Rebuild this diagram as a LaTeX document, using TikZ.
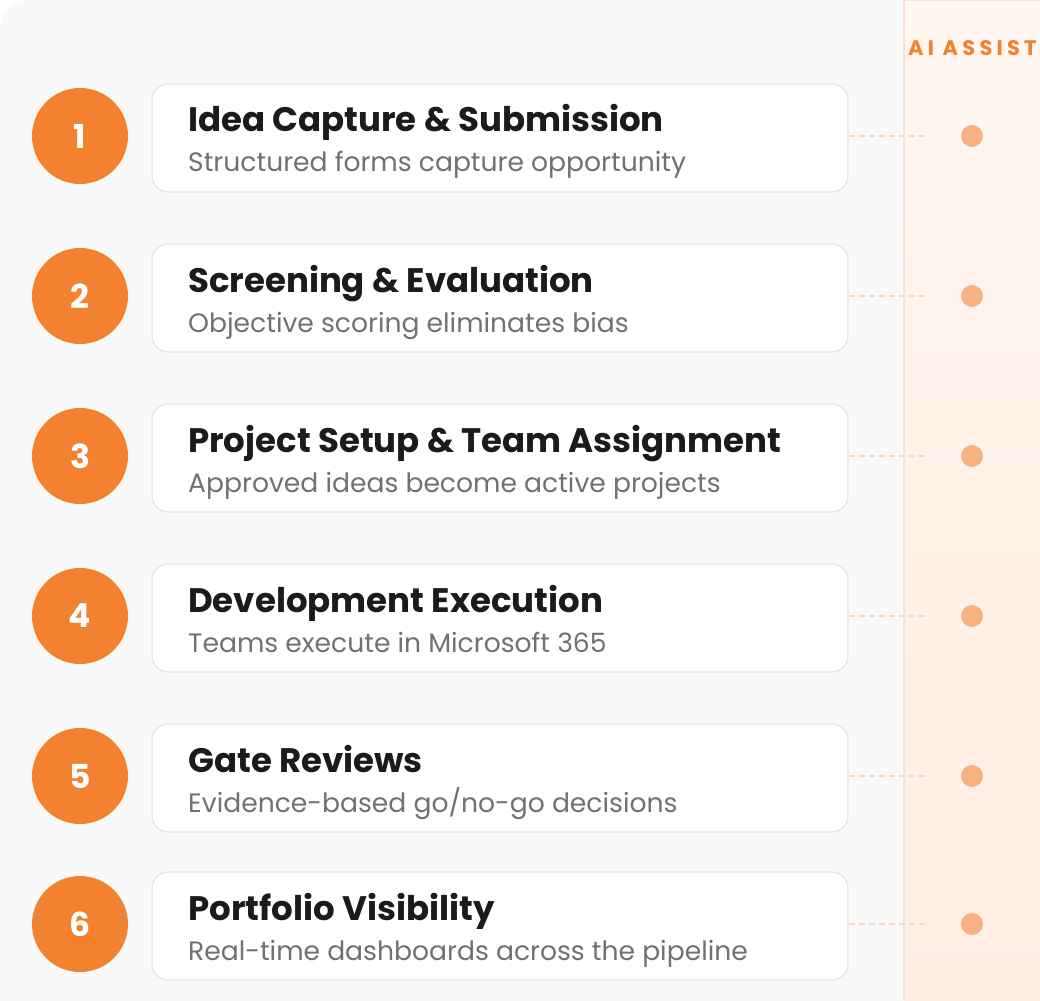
\documentclass[tikz,border=0pt]{standalone}
\usepackage{fontspec}
\setmainfont{Poppins}
\newfontfamily\assistfont[LetterSpace=20]{Poppins}
\usetikzlibrary{positioning}

\definecolor{accent}{HTML}{F28130}
\definecolor{dotfill}{HTML}{F7B283}
\definecolor{dashcol}{HTML}{F9D7C0}
\definecolor{colborder}{HTML}{FBE2D0}
\definecolor{coltop}{HTML}{FFF7F1}
\definecolor{colbottom}{HTML}{FFEDE1}
\definecolor{pagebg}{HTML}{F9F9F9}
\definecolor{cardline}{HTML}{E6E6E6}
\definecolor{titlecol}{HTML}{1B1B1B}
\definecolor{subcol}{HTML}{717171}

\begin{document}
\begin{tikzpicture}[x=1pt,y=-1pt,
  stepnum/.style={circle, fill=accent, minimum size=96pt, inner sep=0pt,
    text=white, font=\fontsize{33}{33}\selectfont\bfseries},
  card/.style={draw=cardline, line width=1.2pt, fill=white, rounded corners=16pt,
    minimum width=696pt, minimum height=108pt, inner sep=0pt},
  title/.style={anchor=base west, inner sep=0pt, text=titlecol,
    font=\fontsize{34}{34}\selectfont\bfseries},
  subtitle/.style={anchor=base west, inner sep=0pt, text=subcol,
    font=\fontsize{26.6}{26.6}\selectfont},
  link/.style={draw=dashcol, line width=1.2pt, dash pattern=on 6pt off 4pt},
  aidot/.style={circle, fill=dotfill, minimum size=22pt, inner sep=0pt}]
\useasboundingbox (0,0) rectangle (1040,1000);

% background panel and AI column
\fill[white] (0,0) rectangle (1040,1000);
\fill[pagebg, rounded corners=28pt] (0,0) rectangle (1080,1040);
\shade[top color=coltop, bottom color=colbottom] (904,0) rectangle (1040,1000);
\draw[colborder, line width=1.5pt] (904,0) -- (904,1000);
\draw[colborder, line width=1.5pt] (904,0.75) -- (1040,0.75);

\node[anchor=base west, inner sep=0pt, text=accent,
  font=\fontsize{21}{21}\selectfont\assistfont\bfseries]
  (assist) at (908,56) {AI ASSIST};

% step 1
\node[stepnum] (n1) at (80,136) {1};
\node[card] (c1) at (500,138) {};
\node[title] (t1) at (188,132) {Idea Capture \& Submission};
\node[subtitle] (s1) at (188,172) {Structured forms capture opportunity};
\node[aidot] (a1) at (972,136) {};
\coordinate (e1) at (926,136);
\draw[link] (c1.east |- a1) -- (e1);

% step 2
\node[stepnum] (n2) at (80,296) {2};
\node[card] (c2) at (500,298) {};
\node[title] (t2) at (188,292) {Screening \& Evaluation};
\node[subtitle] (s2) at (188,332) {Objective scoring eliminates bias};
\node[aidot] (a2) at (972,296) {};
\coordinate (e2) at (926,296);
\draw[link] (c2.east |- a2) -- (e2);

% step 3
\node[stepnum] (n3) at (80,456) {3};
\node[card] (c3) at (500,458) {};
\node[title] (t3) at (188,452) {Project Setup \& Team Assignment};
\node[subtitle] (s3) at (188,492) {Approved ideas become active projects};
\node[aidot] (a3) at (972,456) {};
\coordinate (e3) at (926,456);
\draw[link] (c3.east |- a3) -- (e3);

% step 4
\node[stepnum] (n4) at (80,616) {4};
\node[card] (c4) at (500,618) {};
\node[title] (t4) at (188,612) {Development Execution};
\node[subtitle] (s4) at (188,652) {Teams execute in Microsoft 365};
\node[aidot] (a4) at (972,616) {};
\coordinate (e4) at (926,616);
\draw[link] (c4.east |- a4) -- (e4);

% step 5
\node[stepnum] (n5) at (80,776) {5};
\node[card] (c5) at (500,778) {};
\node[title] (t5) at (188,772) {Gate Reviews};
\node[subtitle] (s5) at (188,812) {Evidence-based go/no-go decisions};
\node[aidot] (a5) at (972,776) {};
\coordinate (e5) at (926,776);
\draw[link] (c5.east |- a5) -- (e5);

% step 6
\node[stepnum] (n6) at (80,924) {6};
\node[card] (c6) at (500,926) {};
\node[title] (t6) at (188,920) {Portfolio Visibility};
\node[subtitle] (s6) at (188,960) {Real-time dashboards across the pipeline};
\node[aidot] (a6) at (972,924) {};
\coordinate (e6) at (926,924);
\draw[link] (c6.east |- a6) -- (e6);

\end{tikzpicture}
\end{document}
